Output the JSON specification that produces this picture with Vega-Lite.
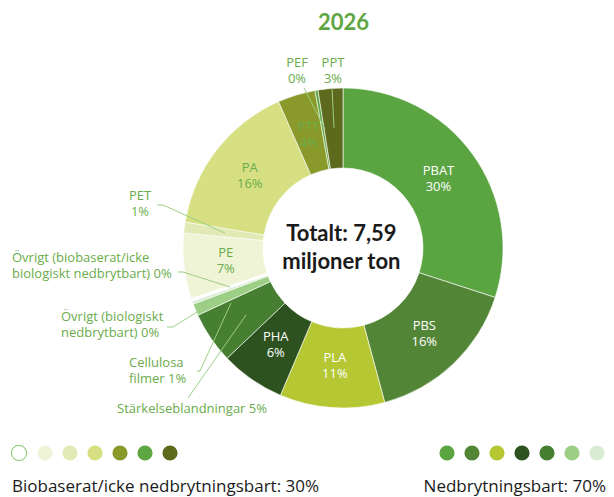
{
  "$schema": "https://vega.github.io/schema/vega-lite/v6.json",
  "width": 614,
  "height": 497,
  "autosize": {"type": "none"},
  "padding": 0,
  "background": "white",
  "config": {"view": {"stroke": null}},
  "datasets": {
    "segments": [
      {"i": 1, "name": "PBAT", "value": 30.0, "inner": "PBAT\n30%"},
      {"i": 2, "name": "PBS", "value": 15.8, "inner": "PBS\n16%"},
      {"i": 3, "name": "PLA", "value": 10.6, "inner": "PLA\n11%"},
      {"i": 4, "name": "PHA", "value": 6.5, "inner": "PHA\n6%"},
      {"i": 5, "name": "Stärkelseblandningar", "value": 5.2, "inner": ""},
      {"i": 6, "name": "Cellulosa filmer", "value": 1.2, "inner": ""},
      {"i": 7, "name": "Övrigt (biologiskt nedbrytbart)", "value": 0.3, "inner": ""},
      {"i": 8, "name": "Övrigt (biobaserat/icke biologiskt nedbrytbart)", "value": 0.3, "inner": ""},
      {"i": 9, "name": "PE", "value": 6.6, "inner": "PE\n7%"},
      {"i": 10, "name": "PET", "value": 1.1, "inner": ""},
      {"i": 11, "name": "PA", "value": 15.8, "inner": "PA\n16%"},
      {"i": 12, "name": "PTT", "value": 3.8, "inner": "PTT\n4%"},
      {"i": 13, "name": "PEF", "value": 0.3, "inner": ""},
      {"i": 14, "name": "PPT", "value": 2.5, "inner": ""}
    ],
    "leaders": [
      {"id": "PEF", "k": 1, "u": -0.24375, "v": 1.0},
      {"id": "PEF", "k": 2, "u": -0.1125, "v": 0.74375},
      {"id": "PPT", "k": 1, "u": -0.06875, "v": 1.0},
      {"id": "PPT", "k": 2, "u": -0.05625, "v": 0.75},
      {"id": "PET", "k": 1, "u": -1.1625, "v": 0.26875},
      {"id": "PET", "k": 2, "u": -1.125, "v": 0.26875},
      {"id": "PET", "k": 3, "u": -0.7375, "v": 0.09375},
      {"id": "OB", "k": 1, "u": -1.03125, "v": -0.15},
      {"id": "OB", "k": 2, "u": -1.0, "v": -0.15},
      {"id": "OB", "k": 3, "u": -0.70625, "v": -0.24375},
      {"id": "ON", "k": 1, "u": -1.1, "v": -0.49375},
      {"id": "ON", "k": 2, "u": -1.0625, "v": -0.49375},
      {"id": "ON", "k": 3, "u": -0.9125, "v": -0.4},
      {"id": "CF", "k": 1, "u": -0.9125, "v": -0.76875},
      {"id": "CF", "k": 2, "u": -0.89375, "v": -0.76875},
      {"id": "CF", "k": 3, "u": -0.7, "v": -0.34375},
      {"id": "SB", "k": 1, "u": -0.96875, "v": -0.9375},
      {"id": "SB", "k": 2, "u": -0.60625, "v": -0.41875}
    ],
    "outerCentered": [
      {"label": "PEF\n0%", "u": -0.2875, "v": 1.15625},
      {"label": "PPT\n3%", "u": -0.0625, "v": 1.15625},
      {"label": "PET\n1%", "u": -1.26875, "v": 0.325}
    ],
    "outerLeft": [
      {"label": "Övrigt (biobaserat/icke\nbiologiskt nedbrytbart) 0%", "u": -2.06875, "v": -0.0625},
      {"label": "Övrigt (biologiskt\nnedbrytbart) 0%", "u": -1.7625, "v": -0.43125},
      {"label": "Cellulosa\nfilmer 1%", "u": -1.3375, "v": -0.71875},
      {"label": "Stärkelseblandningar 5%", "u": -1.4125, "v": -1.00625}
    ],
    "legendDots": [
      {"name": "Övrigt (biobaserat/icke biologiskt nedbrytbart)", "u": -2.025, "v": -1.28125},
      {"name": "PE", "u": -1.8625, "v": -1.28125},
      {"name": "PET", "u": -1.70625, "v": -1.28125},
      {"name": "PA", "u": -1.55, "v": -1.28125},
      {"name": "PTT", "u": -1.39375, "v": -1.28125},
      {"name": "PEF", "u": -1.2375, "v": -1.28125},
      {"name": "PPT", "u": -1.08125, "v": -1.28125},
      {"name": "PBAT", "u": 0.65, "v": -1.28125},
      {"name": "PBS", "u": 0.80625, "v": -1.28125},
      {"name": "PLA", "u": 0.9625, "v": -1.28125},
      {"name": "PHA", "u": 1.11875, "v": -1.28125},
      {"name": "Stärkelseblandningar", "u": 1.275, "v": -1.28125},
      {"name": "Cellulosa filmer", "u": 1.43125, "v": -1.28125},
      {"name": "Övrigt (biologiskt nedbrytbart)", "u": 1.5875, "v": -1.28125}
    ]
  },
  "layer": [
    {
      "data": {"name": "segments"},
      "mark": {"type": "arc", "innerRadius": 80, "outerRadius": 160, "stroke": "white", "strokeWidth": 0.6},
      "encoding": {
        "x": {"datum": 0, "type": "quantitative", "scale": {"domain": [-2.14375, 1.69375], "nice": false, "zero": false}, "axis": null},
        "y": {"datum": 0, "type": "quantitative", "scale": {"domain": [-1.55625, 1.55], "nice": false, "zero": false}, "axis": null},
        "theta": {"field": "value", "type": "quantitative", "stack": true},
        "order": {"field": "i", "type": "quantitative"},
        "color": {
          "field": "name",
          "type": "nominal",
          "legend": null,
          "scale": {
            "domain": ["PBAT", "PBS", "PLA", "PHA", "Stärkelseblandningar", "Cellulosa filmer", "Övrigt (biologiskt nedbrytbart)", "Övrigt (biobaserat/icke biologiskt nedbrytbart)", "PE", "PET", "PA", "PTT", "PEF", "PPT"],
            "range": ["#5ba442", "#538536", "#b5c833", "#2d5220", "#467e32", "#9ccf85", "#d9ecd3", "#ffffff", "#eff4d6", "#e1e9b5", "#d6e083", "#8a9a2a", "#5ea641", "#5d6a1e"]
          }
        }
      }
    },
    {
      "data": {"name": "segments"},
      "mark": {"type": "text", "radius": 118, "dy": -8, "lineBreak": "\n", "font": "Open Sans", "fontSize": 13, "lineHeight": 16, "align": "center", "baseline": "middle"},
      "encoding": {
        "x": {"datum": 0, "type": "quantitative"},
        "y": {"datum": 0, "type": "quantitative"},
        "theta": {"field": "value", "type": "quantitative", "stack": true},
        "order": {"field": "i", "type": "quantitative"},
        "text": {"field": "inner", "type": "nominal"},
        "color": {
          "condition": {"test": "indexof(['PBAT','PBS','PLA','PHA'], datum.name) >= 0", "value": "#ffffff"},
          "value": "#6aac4b"
        }
      }
    },
    {
      "data": {"name": "leaders"},
      "mark": {"type": "line", "color": "#9ccf85", "strokeWidth": 1},
      "encoding": {
        "x": {"field": "u", "type": "quantitative"},
        "y": {"field": "v", "type": "quantitative"},
        "detail": {"field": "id", "type": "nominal"},
        "order": {"field": "k", "type": "quantitative"}
      }
    },
    {
      "data": {"name": "outerCentered"},
      "mark": {"type": "text", "lineBreak": "\n", "font": "Open Sans", "fontSize": 13, "lineHeight": 16, "align": "center", "baseline": "middle", "color": "#6aac4b"},
      "encoding": {
        "x": {"field": "u", "type": "quantitative"},
        "y": {"field": "v", "type": "quantitative"},
        "text": {"field": "label", "type": "nominal"}
      }
    },
    {
      "data": {"name": "outerLeft"},
      "mark": {"type": "text", "lineBreak": "\n", "font": "Open Sans", "fontSize": 13, "lineHeight": 16, "align": "left", "baseline": "middle", "color": "#6aac4b"},
      "encoding": {
        "x": {"field": "u", "type": "quantitative"},
        "y": {"field": "v", "type": "quantitative"},
        "text": {"field": "label", "type": "nominal"}
      }
    },
    {
      "data": {"values": [{"label": "Totalt: 7,59\nmiljoner ton", "u": -0.01, "v": 0.0875}]},
      "mark": {"type": "text", "lineBreak": "\n", "font": "Lato", "fontWeight": "bold", "fontSize": 22, "lineHeight": 28, "align": "center", "baseline": "middle", "color": "#1a1a1a"},
      "encoding": {
        "x": {"field": "u", "type": "quantitative"},
        "y": {"field": "v", "type": "quantitative"},
        "text": {"field": "label", "type": "nominal"}
      }
    },
    {
      "data": {"values": [{"label": "2026", "u": 0.003, "v": 1.406}]},
      "mark": {"type": "text", "font": "Lato", "fontWeight": "bold", "fontSize": 22, "align": "center", "baseline": "middle", "color": "#5ea641"},
      "encoding": {
        "x": {"field": "u", "type": "quantitative"},
        "y": {"field": "v", "type": "quantitative"},
        "text": {"field": "label", "type": "nominal"}
      }
    },
    {
      "data": {"values": [{"label": "Biobaserat/icke nedbrytningsbart: 30%", "u": -2.06875, "v": -1.49375}]},
      "mark": {"type": "text", "font": "Open Sans", "fontSize": 17, "align": "left", "baseline": "middle", "color": "#1a1a1a"},
      "encoding": {
        "x": {"field": "u", "type": "quantitative"},
        "y": {"field": "v", "type": "quantitative"},
        "text": {"field": "label", "type": "nominal"}
      }
    },
    {
      "data": {"values": [{"label": "Nedbrytningsbart: 70%", "u": 1.64375, "v": -1.49375}]},
      "mark": {"type": "text", "font": "Open Sans", "fontSize": 17, "align": "right", "baseline": "middle", "color": "#1a1a1a"},
      "encoding": {
        "x": {"field": "u", "type": "quantitative"},
        "y": {"field": "v", "type": "quantitative"},
        "text": {"field": "label", "type": "nominal"}
      }
    },
    {
      "data": {"name": "legendDots"},
      "mark": {"type": "point", "shape": "circle", "filled": true, "size": 230, "opacity": 1, "strokeWidth": 1.2},
      "encoding": {
        "x": {"field": "u", "type": "quantitative"},
        "y": {"field": "v", "type": "quantitative"},
        "color": {"field": "name", "type": "nominal", "legend": null},
        "stroke": {
          "condition": {"test": "datum.name === 'Övrigt (biobaserat/icke biologiskt nedbrytbart)'", "value": "#9ccf85"},
          "value": "transparent"
        }
      }
    }
  ]
}
